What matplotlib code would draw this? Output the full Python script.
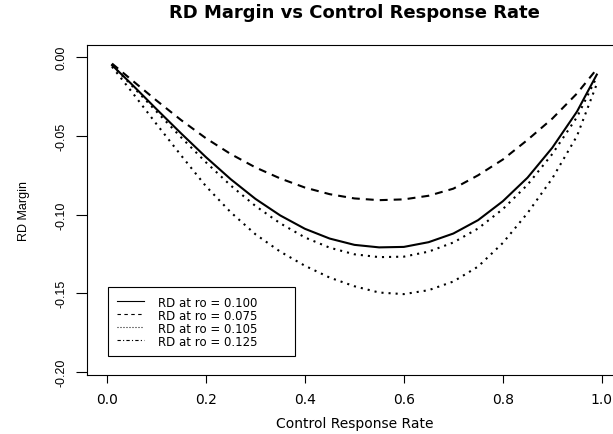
import matplotlib
matplotlib.use("Agg")
import matplotlib.pyplot as plt
from matplotlib.lines import Line2D

# control response rate (x) and RD margin for each ro value
rate = [0.01, 0.05, 0.10, 0.15, 0.20, 0.25, 0.30, 0.35, 0.40, 0.45, 0.50,
        0.55, 0.60, 0.65, 0.70, 0.75, 0.80, 0.85, 0.90, 0.95, 0.99]
rd_100 = [-0.005, -0.0172, -0.033, -0.0485, -0.0635, -0.0775, -0.090, -0.1005, -0.109, -0.1152, -0.1192,
          -0.1208, -0.1205, -0.1175, -0.112, -0.1035, -0.0915, -0.0765, -0.0575, -0.0345, -0.011]
rd_075 = [-0.004, -0.0145, -0.0275, -0.040, -0.0515, -0.0615, -0.070, -0.077, -0.0828, -0.087, -0.0897,
          -0.0908, -0.0903, -0.088, -0.0835, -0.075, -0.065, -0.0525, -0.039, -0.023, -0.0075]
rd_105 = [-0.005, -0.018, -0.0345, -0.051, -0.0668, -0.0815, -0.0945, -0.1055, -0.1145, -0.121, -0.1252,
          -0.127, -0.1267, -0.1235, -0.1177, -0.1088, -0.0965, -0.081, -0.0615, -0.038, -0.0125]
rd_125 = [-0.006, -0.022, -0.0425, -0.0625, -0.082, -0.0985, -0.1125, -0.1235, -0.1325, -0.140, -0.1455,
          -0.1495, -0.1505, -0.148, -0.1425, -0.133, -0.118, -0.099, -0.077, -0.050, -0.017]
legend_labels = ["RD at ro = 0.100", "RD at ro = 0.075", "RD at ro = 0.105", "RD at ro = 0.125"]

x_ticks = [0.0, 0.2, 0.4, 0.6, 0.8, 1.0]
x_ticklabels = ["0.0", "0.2", "0.4", "0.6", "0.8", "1.0"]
y_ticks = [0.00, -0.05, -0.10, -0.15, -0.20]
y_ticklabels = ["0.00", "-0.05", "-0.10", "-0.15", "-0.20"]

fig = plt.figure(figsize=(6.13, 4.35), dpi=100)
ax = fig.add_axes([0.1424, 0.1356, 0.8715, 0.7587])

ax.plot(rate, rd_100, color="black", lw=1.5, linestyle="-")
ax.plot(rate, rd_075, color="black", lw=1.5, linestyle=(0, (3.8, 2.9)))
ax.plot(rate, rd_105, color="black", lw=1.5, linestyle=(0, (1, 2.4)))
ax.plot(rate, rd_125, color="black", lw=1.5, linestyle=(0, (1, 2.4)))

ax.set_xlim(-0.04, 1.04)
ax.set_ylim(-0.2019, 0.0078)

ax.set_xticks(x_ticks)
ax.set_xticklabels(x_ticklabels, fontsize=10)
ax.set_yticks(y_ticks)
ax.set_yticklabels(y_ticklabels, fontsize=9, family="Liberation Sans",
                   rotation=90, va="center")
ax.tick_params(axis="x", length=5.4, width=0.8, pad=7)
ax.tick_params(axis="y", length=7.6, width=0.8, pad=7)

for s in ax.spines.values():
    s.set_linewidth(0.8)

ax.set_xlabel("Control Response Rate", fontsize=10)
ax.xaxis.set_label_coords(0.5, -0.125)
ax.set_ylabel("RD Margin", fontsize=9, family="Liberation Sans")
ax.yaxis.set_label_coords(-0.108, 0.5)
ax.set_title("RD Margin vs Control Response Rate", fontsize=13, fontweight="bold", pad=20)

# legend with thin handles like the original, box stretched to the original width
handles = [
    Line2D([], [], color="black", lw=0.8, linestyle="-"),
    Line2D([], [], color="black", lw=0.8, linestyle=(0, (3.1, 3.1))),
    Line2D([], [], color="black", lw=0.8, linestyle=(0, (0.9, 1.8))),
    Line2D([], [], color="black", lw=0.8, linestyle=(0, (3, 2, 1, 2))),
]
leg = ax.legend(handles, legend_labels, loc="upper left",
                bbox_to_anchor=(0.0393, 0.0658, 0.35, 0.2), mode="expand",
                borderaxespad=0, fontsize=8.5, fancybox=False, edgecolor="black", framealpha=1,
                handlelength=2.3, handletextpad=1.2, labelspacing=0.0, borderpad=0.7)
leg.get_frame().set_linewidth(0.8)

fig.savefig("out.png", dpi=100)
